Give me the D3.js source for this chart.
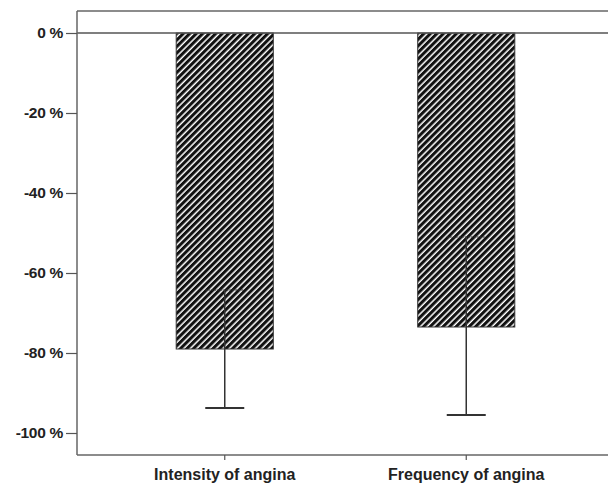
<!DOCTYPE html>
<html>
<head>
<meta charset="utf-8">
<script src="https://cdn.jsdelivr.net/npm/d3@7"></script>
<style>
  body { margin: 0; background: #fff; }
  text { font-family: "Liberation Sans", Arial, sans-serif; font-weight: bold; fill: #222; }
</style>
</head>
<body>
<div id="chart"></div>
<script>
// data
var categories = ["Intensity of angina", "Frequency of angina"];
var means = [-79, -73.5];
var errLow = [-93.75, -95.5];
var errHigh = [-64.25, -51];
var yTicks = [0, -20, -40, -60, -80, -100];

var w = 608, h = 485;
var mLeft = 77, mTop = 11, mRight = 608, mBottom = 455;

var svg = d3.select("#chart").append("svg")
    .attr("width", w)
    .attr("height", h);

var defs = svg.append("defs");
var pat = defs.append("pattern")
    .attr("id", "hatch")
    .attr("patternUnits", "userSpaceOnUse")
    .attr("width", 4.6)
    .attr("height", 4.6)
    .attr("patternTransform", "rotate(45)");
pat.append("rect").attr("width", 4.6).attr("height", 4.6).attr("fill", "#fff");
pat.append("rect").attr("width", 3.1).attr("height", 4.6).attr("fill", "#111");

var yScale = d3.scaleLinear()
    .domain([5.5, -105.5])
    .range([mTop, mBottom]);

var xScale = d3.scaleBand()
    .domain(categories)
    .range([104, 587])
    .paddingInner(0.598)
    .paddingOuter(0.299);

// frame top line
svg.append("line")
    .attr("x1", mLeft).attr("x2", mRight)
    .attr("y1", mTop).attr("y2", mTop)
    .attr("stroke", "#666").attr("stroke-width", 1.5);

// bars
svg.selectAll("rect.bar")
    .data(categories)
    .enter()
    .append("rect")
    .attr("class", "bar")
    .attr("x", function (d) { return xScale(d); })
    .attr("y", yScale(0))
    .attr("width", xScale.bandwidth())
    .attr("height", function (d, i) { return yScale(means[i]) - yScale(0); })
    .attr("fill", "url(#hatch)")
    .attr("stroke", "#333")
    .attr("stroke-width", 1);

// zero line
svg.append("line")
    .attr("x1", mLeft).attr("x2", mRight)
    .attr("y1", yScale(0)).attr("y2", yScale(0))
    .attr("stroke", "#555").attr("stroke-width", 1.5);

// error bars
var cap = 19.5;
var eb = svg.selectAll("g.err")
    .data(categories)
    .enter()
    .append("g")
    .attr("class", "err")
    .attr("stroke", "#333")
    .attr("stroke-width", 1.5);

eb.append("line")
    .attr("x1", function (d) { return xScale(d) + xScale.bandwidth() / 2; })
    .attr("x2", function (d) { return xScale(d) + xScale.bandwidth() / 2; })
    .attr("y1", function (d, i) { return yScale(errHigh[i]); })
    .attr("y2", function (d, i) { return yScale(errLow[i]); });

eb.append("line")
    .attr("x1", function (d) { return xScale(d) + xScale.bandwidth() / 2 - cap; })
    .attr("x2", function (d) { return xScale(d) + xScale.bandwidth() / 2 + cap; })
    .attr("y1", function (d, i) { return yScale(errLow[i]); })
    .attr("y2", function (d, i) { return yScale(errLow[i]); })
    .attr("stroke-width", 2);

eb.append("line")
    .attr("x1", function (d) { return xScale(d) + xScale.bandwidth() / 2 - cap; })
    .attr("x2", function (d) { return xScale(d) + xScale.bandwidth() / 2 + cap; })
    .attr("y1", function (d, i) { return yScale(errHigh[i]); })
    .attr("y2", function (d, i) { return yScale(errHigh[i]); })
    .attr("stroke-width", 1)
    .attr("stroke-dasharray", "2,1");

// y axis
var yAxis = d3.axisLeft(yScale)
    .tickValues(yTicks)
    .tickSize(11)
    .tickPadding(3)
    .tickFormat(function (d) { return d + " %"; });

var gy = svg.append("g")
    .attr("transform", "translate(" + mLeft + ",0)")
    .call(yAxis);
gy.select(".domain").attr("stroke", "#666").attr("stroke-width", 1.5)
    .attr("d", "M0," + mTop + "V" + mBottom);
gy.selectAll(".tick line").attr("stroke", "#555").attr("stroke-width", 1.2);
gy.selectAll(".tick text")
    .style("font-size", "15.5px")
    .style("font-family", "'Liberation Sans', Arial, sans-serif")
    .style("font-weight", "bold")
    .style("letter-spacing", "-0.3px")
    .attr("fill", "#222");

// x axis
var xAxis = d3.axisBottom(xScale)
    .tickSize(5)
    .tickPadding(9);

var gx = svg.append("g")
    .attr("transform", "translate(0," + mBottom + ")")
    .call(xAxis);
gx.select(".domain").attr("stroke", "#666").attr("stroke-width", 1.5)
    .attr("d", "M" + mLeft + ",0H" + mRight);
gx.selectAll(".tick line").attr("stroke", "#555").attr("stroke-width", 1.2);
gx.selectAll(".tick text")
    .style("font-size", "16px")
    .style("font-family", "'Liberation Sans', Arial, sans-serif")
    .style("font-weight", "bold")
    .attr("fill", "#222");
</script>
</body>
</html>
